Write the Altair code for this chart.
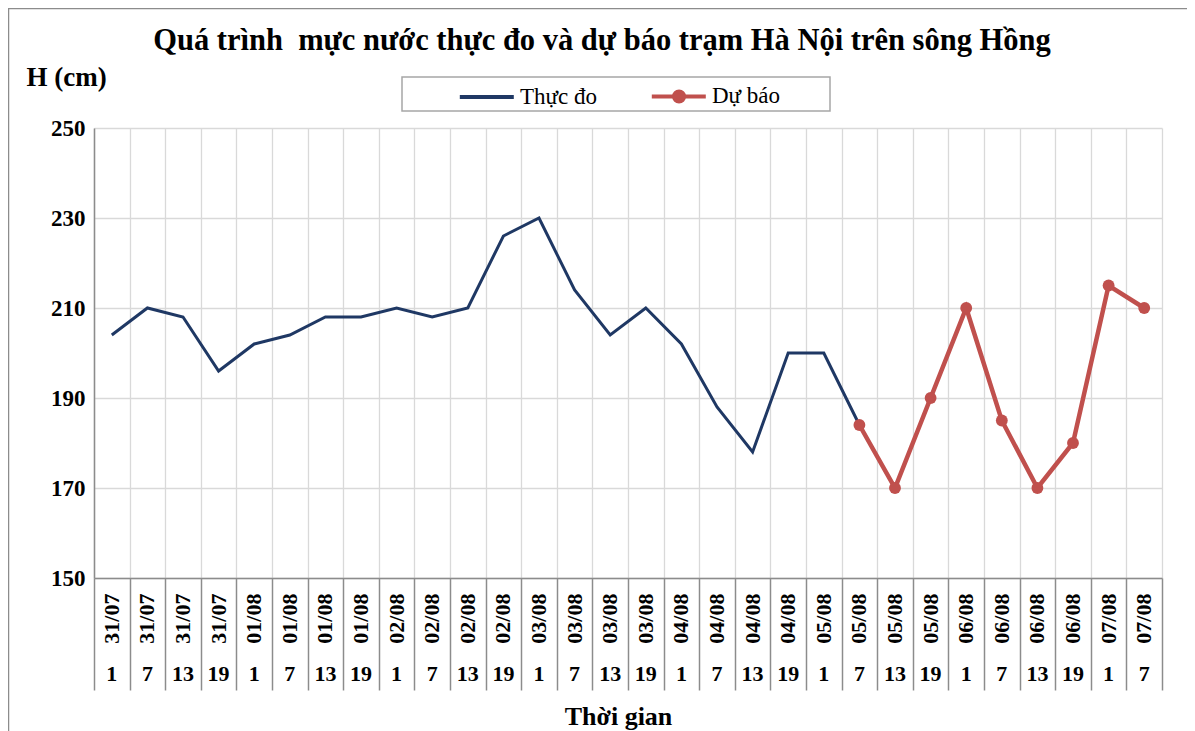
import altair as alt
import pandas as pd

# ---- data ----
dates = (["31/07"] * 4 + ["01/08"] * 4 + ["02/08"] * 4 + ["03/08"] * 4 +
         ["04/08"] * 4 + ["05/08"] * 4 + ["06/08"] * 4 + ["07/08"] * 2)
hours = [1, 7, 13, 19] * 7 + [1, 7]
thuc_do = [204, 210, 208, 196, 202, 204, 208, 208, 210, 208, 210, 226, 230, 214,
           204, 210, 202, 188, 178, 200, 200, 184] + [None] * 8
du_bao = [None] * 21 + [184, 170, 190, 210, 185, 170, 180, 215, 210]
series_names = ["Thực đo", "Dự báo"]
series_colors = ["#1F3864", "#C0504D"]
y_ticks = [150, 170, 190, 210, 230, 250]

keys = [f"{d}|{h}" for d, h in zip(dates, hours)]
df = pd.DataFrame({"key": keys, "thuc_do": thuc_do, "du_bao": du_bao})
df["series"] = "Thực đo"

FONT = "Liberation Serif"
GRID = "#d9d9d9"
TICK = "#8c8c8c"

xscale = alt.Scale(type="band", domain=keys, paddingInner=0, paddingOuter=0)
yscale = alt.Scale(domain=[150, 250], nice=False, zero=False)

yaxis = alt.Axis(values=y_ticks, ticks=False, labelPadding=9,
                 labelFont=FONT, labelFontWeight="bold", labelFontSize=23,
                 labelColor="black", grid=True, gridColor=GRID, gridWidth=1.3,
                 domain=True, domainColor=TICK, domainWidth=1.5,
                 title="H (cm)", titleAngle=0, titleAlign="left",
                 titleBaseline="middle", titleX=-68, titleY=-51,
                 titleFont=FONT, titleFontSize=27, titleFontWeight="bold",
                 titleColor="black")

base = alt.Chart(df)
deco = alt.Chart(pd.DataFrame({"frame": [1]}))

# outer chart-area frame and legend frame (decoration)
outer_frame = deco.mark_rect(fill=None, stroke="#8c8c8c", strokeWidth=1.5).encode(
    x=alt.value(-85.5), x2=alt.value(1125), y=alt.value(-119.5), y2=alt.value(640))
legend_frame = deco.mark_rect(fill=None, stroke="#a6a6a6", strokeWidth=1.5).encode(
    x=alt.value(308), x2=alt.value(736), y=alt.value(-51), y2=alt.value(-17))

obs = base.mark_line(color=series_colors[0], strokeWidth=3).encode(
    x=alt.X("key:N", scale=xscale, sort=keys,
            axis=alt.Axis(orient="bottom", labels=False, ticks=True, tickSize=112,
                          tickBand="extent", tickColor=TICK, tickWidth=1.5,
                          grid=True, gridColor=GRID, gridWidth=1.3,
                          domain=True, domainColor=TICK, domainWidth=1.5, title=None)),
    y=alt.Y("thuc_do:Q", scale=yscale, axis=yaxis),
)

fc = base.mark_line(color=series_colors[1], strokeWidth=4.5,
                    point=alt.OverlayMarkDef(filled=True, size=140, opacity=1,
                                             color=series_colors[1])).encode(
    x=alt.X("key:N", scale=xscale, sort=keys,
            axis=alt.Axis(orient="bottom", labelExpr="split(datum.value, '|')[0]",
                          labelAngle=270, labelPadding=15, ticks=False, grid=False,
                          domain=False, title=None, labelOverlap=False, labelFlush=False,
                          labelFont=FONT, labelFontWeight="bold", labelFontSize=22,
                          labelColor="black")),
    y=alt.Y("du_bao:Q", scale=yscale, axis=yaxis),
)

line_path = "M3.4,0H7.9"
dot_path = "M3.4,0H7.9M5.25,0A0.42,0.42 0 1,0 6.09,0A0.42,0.42 0 1,0 5.25,0Z"
leg = alt.Legend(title=None, orient="none", legendX=306, legendY=-51,
                 direction="horizontal", padding=5,
                 columnPadding=0, labelOffset=87, symbolSize=576,
                 symbolStrokeWidth=4, labelFont=FONT, labelFontSize=23,
                 labelColor="black", labelLimit=400)

legend_layer = base.mark_point(opacity=1, strokeWidth=4).encode(
    x=alt.X("key:N", scale=xscale, sort=keys,
            axis=alt.Axis(orient="bottom", labelExpr="split(datum.value, '|')[1]",
                          labelAngle=0, labelPadding=85, ticks=False, grid=False,
                          domain=False, labelOverlap=False, labelFlush=False,
                          labelFont=FONT, labelFontWeight="bold", labelFontSize=22,
                          labelColor="black",
                          title="Thời gian", titleFont=FONT, titleFontSize=26,
                          titleFontWeight="bold", titleColor="black",
                          titleBaseline="middle", titleAlign="center",
                          titleX=524, titleY=138)),
    y=alt.Y("thuc_do:Q", scale=yscale, axis=yaxis),
    fill=alt.Fill("series:N", scale=alt.Scale(domain=series_names, range=series_colors), legend=leg),
    stroke=alt.Stroke("series:N", scale=alt.Scale(domain=series_names, range=series_colors), legend=leg),
    shape=alt.Shape("series:N", scale=alt.Scale(domain=series_names, range=[line_path, dot_path]), legend=leg),
).transform_filter("false")

chart = alt.layer(outer_frame, legend_frame, obs, fc, legend_layer).resolve_axis(
    x="independent").properties(
    width=1068, height=450,
    autosize=alt.AutoSizeParams(type="none"),
    padding={"left": 86, "top": 120, "right": 25, "bottom": 153},
    title=alt.TitleParams(
        "Quá trình\u00a0 mực nước thực đo và dự báo trạm Hà Nội trên sông Hồng",
        font=FONT, fontSize=30.5, fontWeight="bold", color="black",
        anchor="middle", frame="group", dx=-26, dy=52.5),
).configure_view(stroke=None)

chart.save("out.html", embed_options={"renderer": "svg", "actions": False})
